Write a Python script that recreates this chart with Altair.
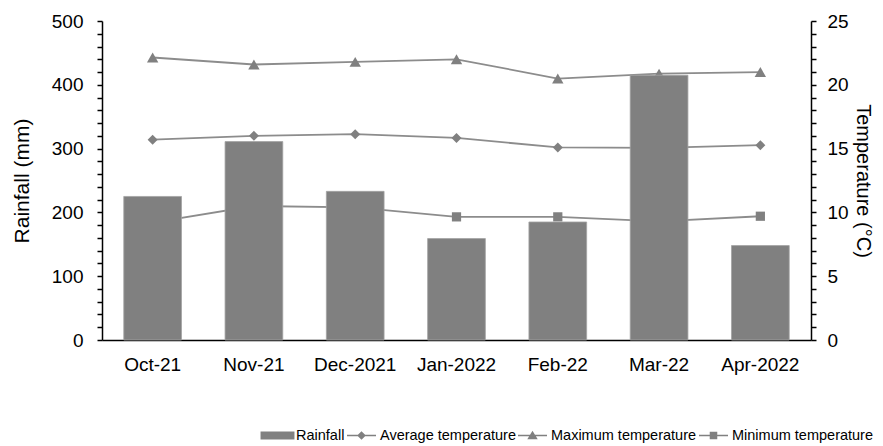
import altair as alt
import pandas as pd

months = ["Oct-21", "Nov-21", "Dec-2021", "Jan-2022", "Feb-22", "Mar-22", "Apr-2022"]
rainfall = [225, 311, 233, 159, 185, 415, 148]
avg_temp = [15.7, 16.0, 16.13, 15.84, 15.09, 15.05, 15.27]
max_temp = [22.14, 21.59, 21.8, 22.0, 20.49, 20.88, 21.0]
min_temp = [9.2, 10.5, 10.4, 9.65, 9.65, 9.3, 9.7]

legend_labels = ["Rainfall", "Average temperature", "Maximum temperature", "Minimum temperature"]
legend_paths = [
    "M-1.17,-0.27H1.17V0.27H-1.17Z",
    "M-1,-0.055H1V0.055H-1Z M0,-0.3L0.3,0L0,0.3L-0.3,0Z",
    "M-1,-0.055H1V0.055H-1Z M0,-0.32L0.36,0.26L-0.36,0.26Z",
    "M-1,-0.055H1V0.055H-1Z M-0.26,-0.26H0.26V0.26H-0.26Z",
]

FONT = "Liberation Sans"
BAR = "#808080"
LINE = "#8c8c8c"

rain_df = pd.DataFrame({"month": months, "rain": rainfall})
temp_series = [
    ("Average temperature", avg_temp, "diamond", 100),
    ("Maximum temperature", max_temp, "triangle-up", 130),
    ("Minimum temperature", min_temp, "square", 85),
]

xenc = alt.X(
    "month:N",
    sort=months,
    title=None,
    scale=alt.Scale(paddingInner=0.43, paddingOuter=0.215),
    axis=alt.Axis(labelAngle=0, ticks=False, labelPadding=15, domainColor="black", domainWidth=1.5),
)

temp_axis = alt.Axis(
    orient="right",
    title="Temperature (°C)",
    values=list(range(0, 26)),
    labelExpr="datum.value % 5 === 0 ? datum.label : ''",
    labelPadding=11,
    titlePadding=4,
    titleFontSize=20,
)

temp_layers = []
for name, vals, shape, size in temp_series:
    df = pd.DataFrame({"month": months, "temp": vals})
    temp_layers.append(
        alt.Chart(df).mark_line(
            color=LINE,
            strokeWidth=1.8,
            point=alt.OverlayMarkDef(shape=shape, filled=True, size=size, color=BAR, opacity=1),
        ).encode(
            x=xenc,
            y=alt.Y("temp:Q", scale=alt.Scale(domain=[0, 25], nice=False), axis=temp_axis),
        )
    )
temps = alt.layer(*temp_layers)

bars = alt.Chart(rain_df).mark_bar(color=BAR, stroke="#a3a3a3", strokeWidth=0.8).encode(
    x=xenc,
    y=alt.Y(
        "rain:Q",
        scale=alt.Scale(domain=[0, 500], nice=False),
        axis=alt.Axis(
            orient="left",
            title="Rainfall (mm)",
            values=list(range(0, 501, 20)),
            labelExpr="datum.value % 100 === 0 ? datum.label : ''",
            labelPadding=14,
            titlePadding=19,
        ),
    ),
)

legend_df = pd.DataFrame({"series": legend_labels})
legend_layer = alt.Chart(legend_df).transform_filter("false").mark_point(
    filled=True, fill=BAR, opacity=1
).encode(
    shape=alt.Shape(
        "series:N",
        scale=alt.Scale(domain=legend_labels, range=legend_paths),
        legend=alt.Legend(
            title=None,
            orient="none",
            direction="horizontal",
            legendX=161,
            legendY=400,
            symbolSize=841,
            symbolStrokeWidth=0,
            symbolFillColor=BAR,
            labelOffset=4,
            columnPadding=2,
            labelFont=FONT,
            labelFontSize=14.5,
            labelColor="black",
        ),
    )
)

chart = (
    alt.layer(temps, bars, legend_layer)
    .resolve_scale(y="independent")
    .properties(
        width=709,
        height=319,
        autosize=alt.AutoSizeParams(type="none"),
        padding={"left": 94, "top": 13, "right": 64, "bottom": 104},
    )
    .configure_view(stroke=None)
    .configure_axis(
        grid=False,
        labelFont=FONT,
        labelFontSize=19,
        labelColor="black",
        titleFont=FONT,
        titleFontSize=21,
        titleFontWeight="normal",
        titleColor="black",
        domainColor="black",
        domainWidth=1.5,
        tickColor="black",
        tickWidth=1.5,
        tickSize=5,
    )
)

chart.save("out.html", embed_options={"renderer": "svg", "actions": False})
